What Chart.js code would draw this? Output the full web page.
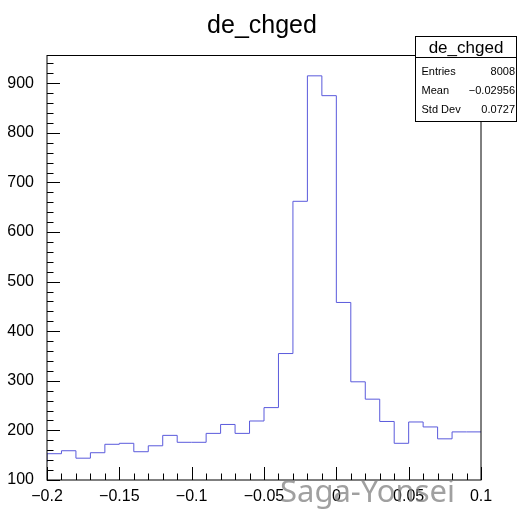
<!DOCTYPE html>
<html>
<head>
<meta charset="utf-8">
<script src="https://cdn.jsdelivr.net/npm/chart.js@4/dist/chart.umd.min.js"></script>
<style>
  body { margin: 0; background: #fff; }
  canvas { display: block; }
</style>
</head>
<body>
<canvas id="histo" width="520" height="509"></canvas>
<script>
// histogram data
const binEdges = [-0.2, -0.19, -0.18, -0.17, -0.16, -0.15, -0.14, -0.13, -0.12, -0.11,
                  -0.1, -0.09, -0.08, -0.07, -0.06, -0.05, -0.04, -0.03, -0.02, -0.01,
                  0, 0.01, 0.02, 0.03, 0.04, 0.05, 0.06, 0.07, 0.08, 0.09, 0.1];
const counts = [136, 153, 159, 144, 155, 172, 174, 157, 169, 190,
                176, 176, 194, 212, 194, 219, 246, 355, 662, 915,
                875, 458, 298, 263, 218, 174, 217, 207, 183, 197];
const xTicks = [-0.2, -0.15, -0.1, -0.05, 0, 0.05, 0.1];
const yTicks = [100, 200, 300, 400, 500, 600, 700, 800, 900];
const histTitle = 'de_chged';
const statsRows = [['Entries', '8008'], ['Mean', '\u22120.02956'], ['Std Dev', '0.0727']];
const watermark = 'Saga-Yonsei';

// step points: left edge of each bin, plus closing point at last edge
const points = counts.map((c, i) => ({ x: binEdges[i], y: c }));
points.push({ x: binEdges[binEdges.length - 1], y: counts[counts.length - 1] });

const fmt = v => {
    const r = Math.round(v * 100) / 100;
    return String(r).replace('-', '\u2212');
};

const rootFrame = {
    id: 'rootFrame',
    afterDraw(chart) {
        const ctx = chart.ctx;
        const a = chart.chartArea;
        const xs = chart.scales.x, ys = chart.scales.y;
        ctx.save();
        ctx.strokeStyle = '#000';
        ctx.lineWidth = 1;
        // frame
        ctx.strokeRect(a.left, a.top, a.right - a.left, a.bottom - a.top);
        // x ticks (inward)
        ctx.beginPath();
        for (let i = 0; i <= 30; i++) {
            const v = -0.2 + i * 0.01;
            const px = Math.round(xs.getPixelForValue(v)) + 0.5;
            const len = (i % 5 === 0) ? 13 : 6.5;
            ctx.moveTo(px, a.bottom);
            ctx.lineTo(px, a.bottom - len);
        }
        // y ticks (inward)
        for (let v = 100; v <= ys.max; v += 20) {
            const py = Math.round(ys.getPixelForValue(v)) + 0.5;
            const len = (v % 100 === 0) ? 13 : 6.5;
            ctx.moveTo(a.left, py);
            ctx.lineTo(a.left + len, py);
        }
        ctx.stroke();

        // title
        ctx.fillStyle = '#000';
        ctx.font = '25px "Liberation Sans", Arial, sans-serif';
        ctx.textAlign = 'center';
        ctx.textBaseline = 'alphabetic';
        ctx.fillText(histTitle, 262, 33);

        // stats box
        const bx = 415.5, by = 36.5, bw = 101, bh = 85;
        ctx.fillStyle = '#fff';
        ctx.fillRect(bx, by, bw, bh);
        ctx.strokeRect(bx, by, bw, bh);
        ctx.beginPath();
        ctx.moveTo(bx, 57.5);
        ctx.lineTo(bx + bw, 57.5);
        ctx.stroke();
        ctx.fillStyle = '#000';
        ctx.font = '17px "Liberation Sans", Arial, sans-serif';
        ctx.textAlign = 'center';
        ctx.fillText(histTitle, bx + bw / 2, 53);
        ctx.font = '11px "Liberation Sans", Arial, sans-serif';
        const rowY = [75, 94, 113];
        statsRows.forEach((r, i) => {
            ctx.textAlign = 'left';
            ctx.fillText(r[0], 421.5, rowY[i]);
            ctx.textAlign = 'right';
            ctx.fillText(r[1], 515, rowY[i]);
        });

        // watermark
        ctx.globalAlpha = 0.75;
        ctx.fillStyle = '#808080';
        ctx.font = '31px "Noto Sans", sans-serif';
        ctx.textAlign = 'left';
        ctx.fillText(watermark, 280, 502);
        ctx.restore();
    }
};

new Chart(document.getElementById('histo'), {
    type: 'line',
    data: {
        datasets: [{
            data: points,
            stepped: 'after',
            borderColor: 'rgb(90, 90, 220)',
            borderWidth: 1,
            pointRadius: 0,
            fill: false
        }]
    },
    options: {
        responsive: false,
        devicePixelRatio: 1,
        animation: false,
        layout: { padding: { top: 55.5, right: 39, bottom: 0, left: 0 } },
        plugins: { legend: { display: false }, tooltip: { enabled: false }, title: { display: false } },
        scales: {
            x: {
                type: 'linear',
                min: -0.2,
                max: 0.1,
                grid: { display: false },
                border: { display: false },
                afterBuildTicks: s => { s.ticks = xTicks.map(v => ({ value: v })); },
                afterFit: s => { s.height = 29; },
                ticks: {
                    autoSkip: false,
                    maxRotation: 0,
                    padding: -1,
                    color: '#000',
                    font: { family: '"Liberation Sans", Arial, sans-serif', size: 16 },
                    callback: v => fmt(v)
                }
            },
            y: {
                min: 100,
                max: 956,
                grid: { display: false },
                border: { display: false },
                afterBuildTicks: s => { s.ticks = yTicks.map(v => ({ value: v })); },
                afterFit: s => { s.width = 47; },
                ticks: {
                    padding: 5,
                    color: '#000',
                    font: { family: '"Liberation Sans", Arial, sans-serif', size: 16 },
                    callback: v => String(v)
                }
            }
        }
    },
    plugins: [rootFrame]
});
</script>
</body>
</html>
